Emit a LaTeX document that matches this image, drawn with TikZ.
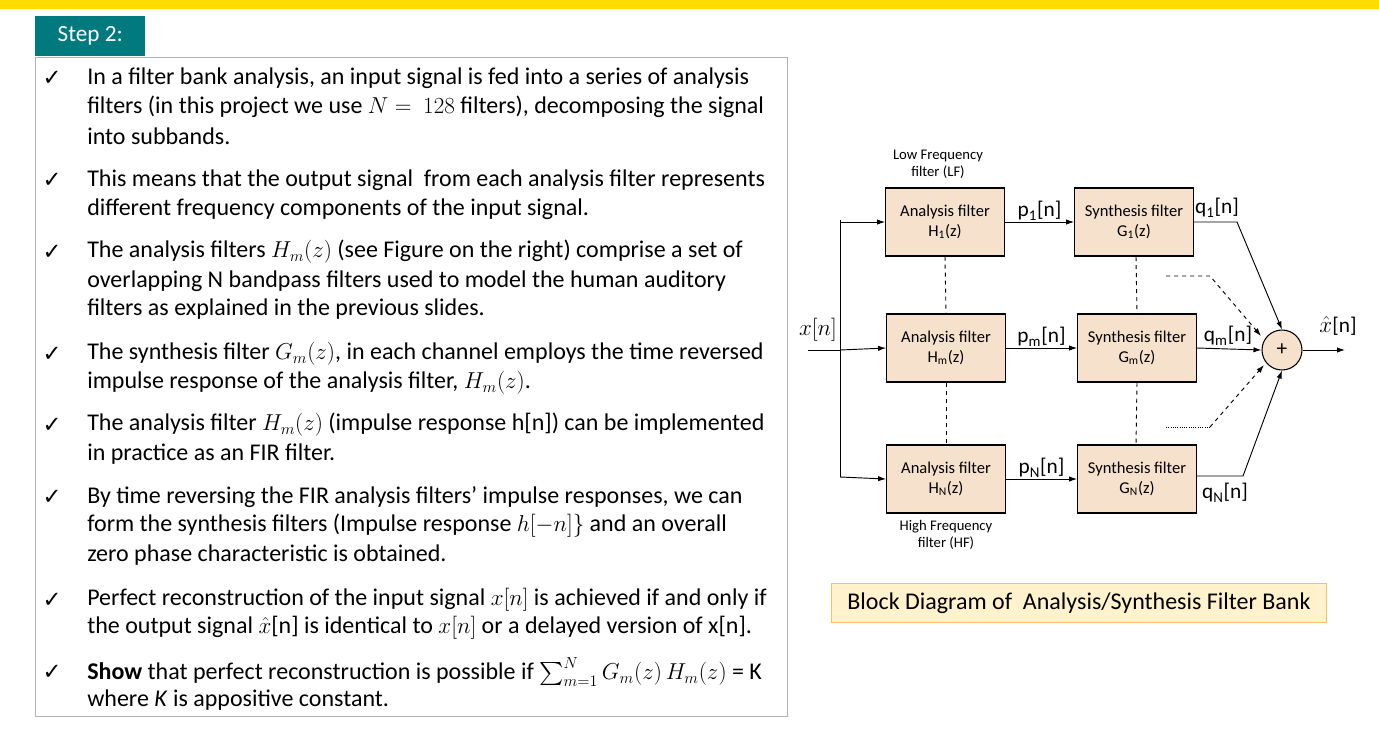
\documentclass[tikz,border=0pt]{standalone}
\usepackage{fontspec}
\usepackage{amsmath}
\setmainfont{Carlito}
\newfontfamily\ckfont{DejaVu Sans}
\usetikzlibrary{arrows.meta}
\definecolor{teal2}{RGB}{0,122,127}
\definecolor{bandyellow}{RGB}{255,221,0}
\definecolor{boxf}{RGB}{245,225,204}
\definecolor{capf}{RGB}{255,242,204}
\definecolor{capd}{RGB}{244,192,106}
\begin{document}
\begin{tikzpicture}[x=0.75pt,y=-0.75pt,
 ln/.style={anchor=west,font=\fontsize{18}{20}\selectfont,inner sep=0},
 ck/.style={anchor=center,font=\ckfont\fontsize{17}{18}\selectfont,inner sep=0},
 blk/.style={draw,fill=boxf,minimum width=89pt,minimum height=51pt,align=center,font=\fontsize{12.4}{15}\selectfont,line width=0.8pt},
 lab/.style={font=\fontsize{16}{18}\selectfont,inner sep=1pt},
 sm/.style={font=\fontsize{11}{13}\selectfont,align=center},
 ar/.style={-{Latex[length=6pt,width=4pt]},line width=0.7pt},
 ln2/.style={line width=0.7pt}]
\useasboundingbox (0,0) rectangle (1379,744);
\fill[fill=bandyellow] (0,0) rectangle (1379,9);
\node[fill=teal2,text=white,minimum width=82.5pt,minimum height=30pt,anchor=north west,font=\fontsize{17.4}{20}\selectfont,inner sep=0] (step) at (35,16) {Step 2:};
\draw[gray!60,line width=0.6pt] (35,57) rectangle (787,716);
\foreach \y in {78,180,252,354,425,497,600,672}{\node[ck] at (52,\y) {✓};}
\node[ln] (t1) at (87,78) {In a filter bank analysis, an input signal is fed into a series of analysis};
\node[ln] at (87,107) {filters (in this project we use $N=\ 128$ filters), decomposing the signal};
\node[ln] at (87,136) {into subbands.};
\node[ln] at (87,180) {This means that the output signal\ \ from each analysis filter represents};
\node[ln] at (87,209) {different frequency components of the input signal.};
\node[ln] at (87,252) {The analysis filters $H_m(z)$ (see Figure on the right) comprise a set of};
\node[ln] at (87,281) {overlapping N bandpass filters used to model the human auditory};
\node[ln] at (87,309) {filters as explained in the previous slides.};
\node[ln] at (87,354) {The synthesis filter $G_m(z)$, in each channel employs the time reversed};
\node[ln] at (87,383) {impulse response of the analysis filter, $H_m(z)$.};
\node[ln] at (87,425) {The analysis filter $H_m(z)$ (impulse response h[n]) can be implemented};
\node[ln] at (87,454) {in practice as an FIR filter.};
\node[ln] at (87,497) {By time reversing the FIR analysis filters’ impulse responses, we can};
\node[ln] at (87,526) {form the synthesis filters (Impulse response $h[-n]\}$ and an overall};
\node[ln] at (87,555) {zero phase characteristic is obtained.};
\node[ln] at (87,600) {Perfect reconstruction of the input signal $x[n]$ is achieved if and only if};
\node[ln] at (87,628) {the output signal $\hat{x}$[n] is identical to $x[n]$ or a delayed version of x[n].};
\node[ln] at (87,672) {\textbf{Show} that perfect reconstruction is possible if $\sum_{m=1}^{N} G_m(z)\,H_m(z)$ = K};
\node[ln] at (87,700) {where \emph{K} is appositive constant.};
% diagram
\node[blk] (a1) at (945,222) {Analysis filter\\H\textsubscript{1}(z)};
\node[blk] (am) at (946,348) {Analysis filter\\H\textsubscript{m}(z)};
\node[blk] (aN) at (946,479) {Analysis filter\\H\textsubscript{N}(z)};
\node[blk] (s1) at (1134,222) {Synthesis filter\\G\textsubscript{1}(z)};
\node[blk] (sm) at (1137,348) {Synthesis filter\\G\textsubscript{m}(z)};
\node[blk] (sN) at (1137,479) {Synthesis filter\\G\textsubscript{N}(z)};
\node[sm] (lf) at (938,164) {Low Frequency\\filter (LF)};
\node[sm] (hf) at (946,535) {High Frequency\\filter (HF)};
\node[circle,draw,fill=boxf,minimum size=30pt,inner sep=0,line width=0.8pt,font=\fontsize{16}{18}\selectfont] (sum) at (1282,350) {+};
\coordinate (in) at (808,350);
\coordinate (br) at (840,350);
\coordinate (out) at (1345,350);
\node[lab] (xn) at (818,330) {$x[n]$};
\node[lab] (xh) at (1338,326) {$\hat{x}$[n]};
\draw[ln2] (in) -- (br);
\draw[ar] (br) -- (am.west);
\draw[ar] (840,220) |- (a1.west) ;
\draw[ln2] (840,220) -- (840,477);
\draw[ar] (840,477) -- (aN.west);
\draw[ar] (a1) -- node[lab,above]{p\textsubscript{1}[n]} (s1);
\draw[ar] (am) -- node[lab,above]{p\textsubscript{m}[n]} (sm);
\draw[ar] (aN) -- node[lab,above]{p\textsubscript{N}[n]} (sN);
\coordinate (q1c) at (1237,222);
\coordinate (qNc) at (1243,476);
\draw[ar] (s1.east) -- (q1c) -- (sum.north);
\node[lab] (q1) at (1217,208) {q\textsubscript{1}[n]};
\draw[ar] (sm.east) -- (sum.west);
\node[lab] (qm) at (1228,336) {q\textsubscript{m}[n]};
\draw[ar] (sN.east |- qNc) -- (qNc) -- (sum.south);
\node[lab] (qN) at (1225,493) {q\textsubscript{N}[n]};
\draw[ar] (sum) -- (out);
\draw[ln2,dashed] (a1.south) -- (am.north);
\draw[ln2,dashed] (am.south) -- (aN.north);
\draw[ln2,dashed] (1136,257) -- (sm.north);
\draw[ln2,dashed] (sm.south) -- (1136,445);
\coordinate (d1) at (1166,276);
\coordinate (d2) at (1210,276);
\coordinate (d3) at (1166,427);
\coordinate (d4) at (1210,427);
\draw[ar,dashed] (d1) -- (d2) -- (1261,336);
\draw[ln2,densely dotted] (d3) -- (d4);
\draw[ar,dashed] (d4) -- (1264,365);
\node[draw=capd,fill=capf,minimum width=371pt,minimum height=29pt,font=\fontsize{18}{20}\selectfont,line width=0.6pt] (cap) at (1079,603) {Block Diagram of\ \ Analysis/Synthesis Filter Bank};
\end{tikzpicture}
\end{document}
